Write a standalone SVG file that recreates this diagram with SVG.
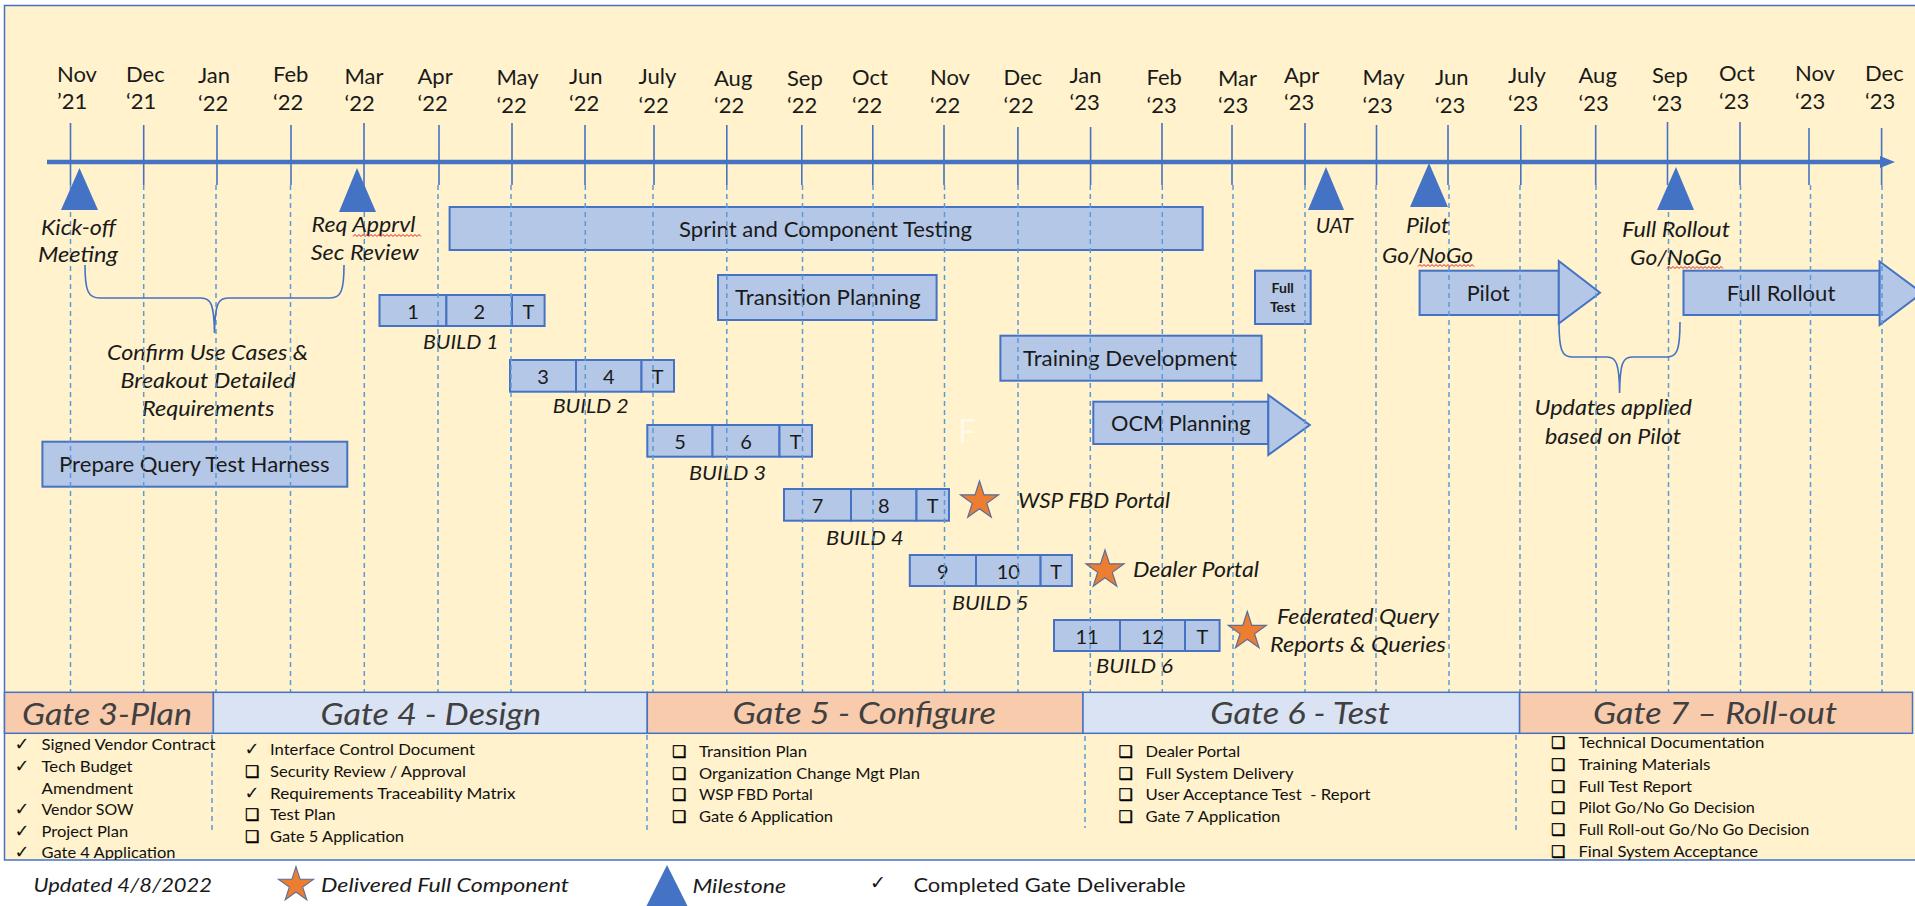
<svg xmlns="http://www.w3.org/2000/svg" width="1915" height="906" viewBox="0 0 1915 906">
<defs>
<style>
text{font-family:Lato,"Open Sans","Liberation Sans",sans-serif;fill:#1a1a1a}
.it{font-style:italic}
.mo{font-size:22px}
.bar{fill:#B4C7E7;stroke:#4472C4;stroke-width:2}
.bt{font-size:21px}
.lbl{font-size:21px;font-style:italic}
.num{font-size:20px;text-anchor:middle}
.bl{font-size:20px;font-style:italic}
.solid{stroke:#4472C4;stroke-width:1.6}
.dash{stroke:#5B9BD5;stroke-width:1.5;stroke-dasharray:5 4;fill:none}
.ms{fill:#4472C4}
.star{fill:#ED7D31;stroke:#5A6E9A;stroke-width:1.2}
.brace{fill:none;stroke:#4472C4;stroke-width:1.6}
.gate{stroke:#4472C4;stroke-width:1.5}
.peach{fill:#F8CBAD}
.lblue{fill:#DAE3F3}
.gt{font-size:31px;font-style:italic;fill:#404040}
.dl{font-size:15px;fill:#111}
.mk{font-family:"DejaVu Sans",sans-serif;font-size:16px;font-weight:bold;fill:#000;stroke:#000;stroke-width:0.4}
.ck{font-family:"DejaVu Sans",sans-serif;font-size:18px;font-weight:bold;fill:#111}
.sq{fill:none;stroke:#E02020;stroke-width:1}
</style>
<polygon id="star" class="star" points="0,-20 4.49,-6.18 19.02,-6.18 7.27,2.36 11.76,16.18 0,7.64 -11.76,16.18 -7.27,2.36 -19.02,-6.18 -4.49,-6.18"/>
<clipPath id="clipBox"><rect x="0" y="0" width="1915" height="860"/></clipPath>
</defs>

<rect x="0" y="0" width="1915" height="906" fill="#FFFFFF"/>
<g id="background">
<rect x="4.5" y="5.5" width="1915" height="854.5" fill="#FFF2CC" stroke="#4472C4" stroke-width="1.5"/>
</g>

<g id="months">
<g class="mo">
<text x="57" y="82">Nov</text><text x="57" y="109">’21</text>
<text x="126" y="82">Dec</text><text x="126" y="109">‘21</text>
<text x="198" y="83">Jan</text><text x="198" y="110.5">‘22</text>
<text x="273" y="82">Feb</text><text x="273" y="109.5">‘22</text>
<text x="344.5" y="83.5">Mar</text><text x="344.5" y="111">‘22</text>
<text x="417.5" y="83.5">Apr</text><text x="417.5" y="111">‘22</text>
<text x="496.5" y="84.5">May</text><text x="496.5" y="112.5">‘22</text>
<text x="569" y="83.5">Jun</text><text x="569" y="111">‘22</text>
<text x="638.5" y="84">July</text><text x="638.5" y="112.5">‘22</text>
<text x="714" y="86">Aug</text><text x="714" y="113">‘22</text>
<text x="787" y="86">Sep</text><text x="787" y="113">‘22</text>
<text x="852" y="84.5">Oct</text><text x="852" y="113">‘22</text>
<text x="930" y="84.5">Nov</text><text x="930" y="113">‘22</text>
<text x="1003.5" y="84.5">Dec</text><text x="1003.5" y="113">‘22</text>
<text x="1069.5" y="83">Jan</text><text x="1069.5" y="109.5">‘23</text>
<text x="1146.5" y="84.5">Feb</text><text x="1146.5" y="112.5">‘23</text>
<text x="1218" y="86">Mar</text><text x="1218" y="113">‘23</text>
<text x="1284" y="83">Apr</text><text x="1284" y="110">‘23</text>
<text x="1362.5" y="84.5">May</text><text x="1362.5" y="113">‘23</text>
<text x="1435" y="84.5">Jun</text><text x="1435" y="112.5">‘23</text>
<text x="1508" y="83">July</text><text x="1508" y="110.5">‘23</text>
<text x="1578.5" y="83">Aug</text><text x="1578.5" y="110.5">‘23</text>
<text x="1652" y="83">Sep</text><text x="1652" y="110.5">‘23</text>
<text x="1719" y="81">Oct</text><text x="1719" y="109">‘23</text>
<text x="1795" y="81">Nov</text><text x="1795" y="109">‘23</text>
<text x="1865" y="81">Dec</text><text x="1865" y="109">‘23</text>
</g>
</g>

<g id="sprint-testing">
<rect class="bar" x="449.6" y="207" width="753.1" height="43"/>
<text class="bt" x="679" y="237" textLength="293" lengthAdjust="spacingAndGlyphs">Sprint and Component Testing</text>
</g>
<g id="transition-planning">
<rect class="bar" x="718" y="275" width="218.6" height="45"/>
<text class="bt" x="735" y="305" textLength="185.5" lengthAdjust="spacingAndGlyphs">Transition Planning</text>
</g>
<g id="full-test">
<rect class="bar" x="1255" y="270.7" width="55.7" height="53.3"/>
<text x="1282.7" y="293.3" font-size="14" font-weight="bold" text-anchor="middle">Full</text>
<text x="1282.7" y="312.3" font-size="14" font-weight="bold" text-anchor="middle">Test</text>
</g>
<g id="training-development">
<rect class="bar" x="1000.4" y="335.7" width="261.2" height="45"/>
<text class="bt" x="1023" y="366" textLength="214" lengthAdjust="spacingAndGlyphs">Training Development</text>
</g>
<g id="ocm-planning">
<rect class="bar" x="1093.3" y="401.7" width="175" height="42.3"/>
<polygon class="bar" points="1268.3,395 1309.8,425 1268.3,455"/>
<text class="bt" x="1111" y="431" textLength="139.5" lengthAdjust="spacingAndGlyphs">OCM Planning</text>
</g>
<g id="pilot">
<rect class="bar" x="1419.6" y="270.7" width="139.2" height="44.3"/>
<polygon class="bar" points="1558.8,261 1600,292.8 1558.8,323.5"/>
<text class="bt" x="1466.7" y="301" textLength="43" lengthAdjust="spacingAndGlyphs">Pilot</text>
</g>
<g id="full-rollout">
<rect class="bar" x="1683.5" y="270.7" width="196.1" height="44.3"/>
<polygon class="bar" points="1879.6,261.5 1922,293 1879.6,325"/>
<text class="bt" x="1726.7" y="301" textLength="108.6" lengthAdjust="spacingAndGlyphs">Full Rollout</text>
</g>
<g id="prepare-query">
<rect class="bar" x="42.4" y="441.7" width="304.9" height="45"/>
<text class="bt" x="59" y="472" textLength="270.5" lengthAdjust="spacingAndGlyphs">Prepare Query Test Harness</text>
</g>

<g id="build1">
<rect class="bar" x="379.5" y="295" width="66.9" height="31"/><rect class="bar" x="446.4" y="295" width="65.6" height="31"/><rect class="bar" x="512" y="295" width="32.6" height="31"/>
<text class="num" x="413" y="319">1</text><text class="num" x="479.2" y="319">2</text><text class="num" x="528.3" y="319">T</text>
<text class="bl" x="423" y="349" textLength="75.7" lengthAdjust="spacingAndGlyphs">BUILD 1</text>
</g>
<g id="build2">
<rect class="bar" x="510" y="360" width="66" height="31.7"/><rect class="bar" x="576" y="360" width="65.5" height="31.7"/><rect class="bar" x="641.5" y="360" width="32.5" height="31.7"/>
<text class="num" x="543" y="384">3</text><text class="num" x="608.7" y="384">4</text><text class="num" x="657.7" y="384">T</text>
<text class="bl" x="552.7" y="413" textLength="76" lengthAdjust="spacingAndGlyphs">BUILD 2</text>
</g>
<g id="build3">
<rect class="bar" x="647.3" y="425" width="65.2" height="31.7"/><rect class="bar" x="712.5" y="425" width="67" height="31.7"/><rect class="bar" x="779.5" y="425" width="32.5" height="31.7"/>
<text class="num" x="680" y="449">5</text><text class="num" x="746" y="449">6</text><text class="num" x="795.7" y="449">T</text>
<text class="bl" x="689" y="480" textLength="77" lengthAdjust="spacingAndGlyphs">BUILD 3</text>
</g>
<g id="build4">
<rect class="bar" x="784" y="489" width="67" height="31.7"/><rect class="bar" x="851" y="489" width="65.5" height="31.7"/><rect class="bar" x="916.5" y="489" width="32.5" height="31.7"/>
<text class="num" x="817.5" y="513">7</text><text class="num" x="883.7" y="513">8</text><text class="num" x="932.7" y="513">T</text>
<text class="bl" x="826" y="545" textLength="77.6" lengthAdjust="spacingAndGlyphs">BUILD 4</text>
</g>
<g id="build5">
<rect class="bar" x="909.8" y="555" width="66.2" height="31"/><rect class="bar" x="976" y="555" width="64.6" height="31"/><rect class="bar" x="1040.6" y="555" width="31.3" height="31"/>
<text class="num" x="942.9" y="579">9</text><text class="num" x="1008.3" y="579">10</text><text class="num" x="1056.2" y="579">T</text>
<text class="bl" x="952" y="610" textLength="76.6" lengthAdjust="spacingAndGlyphs">BUILD 5</text>
</g>
<g id="build6">
<rect class="bar" x="1054" y="620" width="66" height="31"/><rect class="bar" x="1120" y="620" width="65" height="31"/><rect class="bar" x="1185" y="620" width="34.6" height="31"/>
<text class="num" x="1087" y="644">11</text><text class="num" x="1152.5" y="644">12</text><text class="num" x="1202.3" y="644">T</text>
<text class="bl" x="1096" y="673" textLength="77" lengthAdjust="spacingAndGlyphs">BUILD 6</text>
</g>

<g id="confirm-label">
<text class="lbl" x="107" y="360" textLength="201" lengthAdjust="spacingAndGlyphs">Confirm Use Cases &amp;</text>
<text class="lbl" x="120.5" y="388" textLength="175" lengthAdjust="spacingAndGlyphs">Breakout Detailed</text>
<text class="lbl" x="142" y="416" textLength="132.5" lengthAdjust="spacingAndGlyphs">Requirements</text>
</g>
<g id="updates-label">
<text class="lbl" x="1534.5" y="415" textLength="157.5" lengthAdjust="spacingAndGlyphs">Updates applied</text>
<text class="lbl" x="1545" y="443.5" textLength="136" lengthAdjust="spacingAndGlyphs">based on Pilot</text>
</g>
<text x="958" y="443" font-size="32" style="fill:#FFFFFF" opacity="0.6">F</text>

<g id="grid">
<g class="solid">
<line x1="70.5" y1="123" x2="70.5" y2="185"/><line x1="143.7" y1="125" x2="143.7" y2="185"/><line x1="217" y1="125" x2="217" y2="185"/><line x1="291" y1="125" x2="291" y2="185"/><line x1="364" y1="123" x2="364" y2="185"/><line x1="439" y1="125" x2="439" y2="185"/><line x1="512" y1="123" x2="512" y2="185"/><line x1="585" y1="125" x2="585" y2="185"/><line x1="654" y1="125" x2="654" y2="185"/><line x1="726.8" y1="125" x2="726.8" y2="185"/><line x1="801.8" y1="125" x2="801.8" y2="185"/><line x1="872.8" y1="125" x2="872.8" y2="185"/><line x1="944" y1="125" x2="944" y2="185"/><line x1="1017.9" y1="127" x2="1017.9" y2="185"/><line x1="1090.6" y1="127" x2="1090.6" y2="185"/><line x1="1162" y1="123" x2="1162" y2="185"/><line x1="1232" y1="125" x2="1232" y2="185"/><line x1="1305" y1="123" x2="1305" y2="185"/><line x1="1376.5" y1="125" x2="1376.5" y2="185"/><line x1="1448" y1="125" x2="1448" y2="185"/><line x1="1520.8" y1="125" x2="1520.8" y2="185"/><line x1="1595.7" y1="125" x2="1595.7" y2="185"/><line x1="1667.5" y1="122" x2="1667.5" y2="185"/><line x1="1740" y1="122" x2="1740" y2="185"/><line x1="1809" y1="128" x2="1809" y2="185"/><line x1="1881.6" y1="128" x2="1881.6" y2="185"/>
</g>
<g class="dash">
<line x1="70.5" y1="185" x2="70.5" y2="692"/><line x1="143.7" y1="185" x2="143.7" y2="692"/><line x1="216" y1="185" x2="216" y2="692"/><line x1="290.5" y1="185" x2="290.5" y2="692"/><line x1="364.3" y1="185" x2="364.3" y2="692"/><line x1="438" y1="185" x2="438" y2="692"/><line x1="511" y1="185" x2="511" y2="692"/><line x1="585.3" y1="185" x2="585.3" y2="692"/><line x1="653" y1="185" x2="653" y2="692"/><line x1="726.8" y1="185" x2="726.8" y2="692"/><line x1="802.5" y1="185" x2="802.5" y2="692"/><line x1="873" y1="185" x2="873" y2="692"/><line x1="944.5" y1="185" x2="944.5" y2="692"/><line x1="1018" y1="185" x2="1018" y2="692"/><line x1="1090.3" y1="185" x2="1090.3" y2="692"/><line x1="1162.3" y1="185" x2="1162.3" y2="692"/><line x1="1233" y1="185" x2="1233" y2="692"/><line x1="1305" y1="185" x2="1305" y2="692"/><line x1="1376" y1="185" x2="1376" y2="692"/><line x1="1449" y1="185" x2="1449" y2="692"/><line x1="1520" y1="185" x2="1520" y2="692"/><line x1="1596" y1="185" x2="1596" y2="692"/><line x1="1668.5" y1="185" x2="1668.5" y2="692"/><line x1="1740.5" y1="185" x2="1740.5" y2="692"/><line x1="1810.5" y1="185" x2="1810.5" y2="692"/><line x1="1882" y1="185" x2="1882" y2="692"/>
<line x1="212" y1="735" x2="212" y2="830"/><line x1="647" y1="735" x2="647" y2="830"/><line x1="1085" y1="736" x2="1085" y2="828"/><line x1="1516" y1="735" x2="1516" y2="830"/>
</g>
</g>

<g id="axis">
<line x1="47" y1="162" x2="1882" y2="162" stroke="#4472C4" stroke-width="4.3"/>
<polygon points="1880,156 1895,162 1880,168" fill="#4472C4"/>
</g>

<g id="connectors">
<path class="brace" d="M85,265 C85,291 88,298 100,298 L201,298 C211,298 214,304 214.5,333 C215,304 218,298 228,298 L330,298 C341,298 344,291 344,265"/>
<path class="brace" d="M1559,322 C1559,350 1562,357 1572,357 L1607,357 C1616,357 1619.3,363 1619.6,393 C1620,363 1623,357 1632,357 L1667,357 C1677,357 1680,350 1680,322"/>
</g>

<g id="milestone-kickoff">
<polygon class="ms" points="61,210 79.5,168 98,210"/>
<text class="lbl" x="41" y="235" textLength="75" lengthAdjust="spacingAndGlyphs">Kick-off</text>
<text class="lbl" x="38" y="262" textLength="80" lengthAdjust="spacingAndGlyphs">Meeting</text>
</g>
<g id="milestone-req">
<polygon class="ms" points="339,212 357,168 376,212"/>
<text class="lbl" x="311.6" y="232" textLength="104" lengthAdjust="spacingAndGlyphs">Req Apprvl</text>
<text class="lbl" x="310.7" y="260" textLength="108" lengthAdjust="spacingAndGlyphs">Sec Review</text>
<path class="sq" d="M353,236.5 l2,-2 2,2 2,-2 2,2 2,-2 2,2 2,-2 2,2 2,-2 2,2 2,-2 2,2 2,-2 2,2 2,-2 2,2 2,-2 2,2 2,-2 2,2 2,-2 2,2 2,-2 2,2 2,-2 2,2 2,-2 2,2 2,-2 2,2 2,-2 2,2 2,-2 2,2"/>
</g>
<g id="milestone-uat">
<polygon class="ms" points="1308,210 1326,167 1344,210"/>
<text class="lbl" x="1315.7" y="233" textLength="37.3" lengthAdjust="spacingAndGlyphs">UAT</text>
</g>
<g id="milestone-pilot">
<polygon class="ms" points="1410,207 1429,163 1448,207"/>
<text class="lbl" x="1406" y="233" textLength="43" lengthAdjust="spacingAndGlyphs">Pilot</text>
<text class="lbl" x="1382" y="263" textLength="91" lengthAdjust="spacingAndGlyphs">Go/NoGo</text>
<path class="sq" d="M1418,266.5 l2,-2 2,2 2,-2 2,2 2,-2 2,2 2,-2 2,2 2,-2 2,2 2,-2 2,2 2,-2 2,2 2,-2 2,2 2,-2 2,2 2,-2 2,2 2,-2 2,2 2,-2 2,2 2,-2 2,2 2,-2 2,2"/>
</g>
<g id="milestone-fullrollout">
<polygon class="ms" points="1657,210 1676,167 1694,210"/>
<text class="lbl" x="1622" y="237" textLength="108" lengthAdjust="spacingAndGlyphs">Full Rollout</text>
<text class="lbl" x="1630" y="265" textLength="91.6" lengthAdjust="spacingAndGlyphs">Go/NoGo</text>
<path class="sq" d="M1667,268.5 l2,-2 2,2 2,-2 2,2 2,-2 2,2 2,-2 2,2 2,-2 2,2 2,-2 2,2 2,-2 2,2 2,-2 2,2 2,-2 2,2 2,-2 2,2 2,-2 2,2 2,-2 2,2 2,-2 2,2 2,-2 2,2"/>
</g>

<g id="star-wsp">
<use href="#star" x="979.5" y="501"/>
<text class="lbl" x="1018" y="508" textLength="152" lengthAdjust="spacingAndGlyphs">WSP FBD Portal</text>
</g>
<g id="star-dealer">
<use href="#star" x="1105" y="570"/>
<text class="lbl" x="1133" y="577" textLength="126" lengthAdjust="spacingAndGlyphs">Dealer Portal</text>
</g>
<g id="star-federated">
<use href="#star" x="1247.3" y="631.5"/>
<text class="lbl" x="1277" y="624" textLength="162" lengthAdjust="spacingAndGlyphs">Federated Query</text>
<text class="lbl" x="1270" y="651.5" textLength="176" lengthAdjust="spacingAndGlyphs">Reports &amp; Queries</text>
</g>

<g id="gate3">
<rect class="gate peach" x="4.5" y="692.3" width="208.9" height="41"/>
<text class="gt" x="22" y="725" textLength="170" lengthAdjust="spacingAndGlyphs">Gate 3-Plan</text>
<text class="ck" x="14.5" y="750">✓</text><text class="dl" x="41.5" y="750" textLength="174" lengthAdjust="spacingAndGlyphs">Signed Vendor Contract</text>
<text class="ck" x="14.5" y="772">✓</text><text class="dl" x="41.5" y="772" textLength="91" lengthAdjust="spacingAndGlyphs">Tech Budget</text>
<text class="dl" x="41.5" y="793.5" textLength="91.5" lengthAdjust="spacingAndGlyphs">Amendment</text>
<text class="ck" x="14.5" y="815">✓</text><text class="dl" x="41.5" y="815" textLength="92" lengthAdjust="spacingAndGlyphs">Vendor SOW</text>
<text class="ck" x="14.5" y="836.5">✓</text><text class="dl" x="41.5" y="836.5" textLength="86.6" lengthAdjust="spacingAndGlyphs">Project Plan</text>
<g clip-path="url(#clipBox)"><text class="ck" x="14.5" y="858">✓</text><text class="dl" x="41.5" y="858" textLength="134" lengthAdjust="spacingAndGlyphs">Gate 4 Application</text></g>
</g>
<g id="gate4">
<rect class="gate lblue" x="213.4" y="692.3" width="433.9" height="41"/>
<text class="gt" x="320.5" y="725" textLength="220.5" lengthAdjust="spacingAndGlyphs">Gate 4 - Design</text>
<text class="ck" x="244.5" y="755">✓</text><text class="dl" x="270" y="755" textLength="205" lengthAdjust="spacingAndGlyphs">Interface Control Document</text>
<text class="mk" x="245" y="777">❑</text><text class="dl" x="270" y="777" textLength="196" lengthAdjust="spacingAndGlyphs">Security Review / Approval</text>
<text class="ck" x="244.5" y="798.5">✓</text><text class="dl" x="270" y="798.5" textLength="245.5" lengthAdjust="spacingAndGlyphs">Requirements Traceability Matrix</text>
<text class="mk" x="245" y="820">❑</text><text class="dl" x="270" y="820" textLength="65.6" lengthAdjust="spacingAndGlyphs">Test Plan</text>
<text class="mk" x="245" y="842">❑</text><text class="dl" x="270" y="842" textLength="134" lengthAdjust="spacingAndGlyphs">Gate 5 Application</text>
</g>
<g id="gate5">
<rect class="gate peach" x="647.3" y="692.3" width="435.7" height="41"/>
<text class="gt" x="732.6" y="724" textLength="263.4" lengthAdjust="spacingAndGlyphs">Gate 5 - Configure</text>
<text class="mk" x="672" y="757">❑</text><text class="dl" x="699" y="757" textLength="108" lengthAdjust="spacingAndGlyphs">Transition Plan</text>
<text class="mk" x="672" y="778.5">❑</text><text class="dl" x="699" y="778.5" textLength="221" lengthAdjust="spacingAndGlyphs">Organization Change Mgt Plan</text>
<text class="mk" x="672" y="800">❑</text><text class="dl" x="699" y="800" textLength="113.8" lengthAdjust="spacingAndGlyphs">WSP FBD Portal</text>
<text class="mk" x="672" y="821.5">❑</text><text class="dl" x="699" y="821.5" textLength="134" lengthAdjust="spacingAndGlyphs">Gate 6 Application</text>
</g>
<g id="gate6">
<rect class="gate lblue" x="1083" y="692.3" width="436.6" height="41"/>
<text class="gt" x="1210.3" y="724" textLength="179.7" lengthAdjust="spacingAndGlyphs">Gate 6 - Test</text>
<text class="mk" x="1118.5" y="757">❑</text><text class="dl" x="1145.5" y="757" textLength="94.6" lengthAdjust="spacingAndGlyphs">Dealer Portal</text>
<text class="mk" x="1118.5" y="778.5">❑</text><text class="dl" x="1145.5" y="778.5" textLength="148" lengthAdjust="spacingAndGlyphs">Full System Delivery</text>
<text class="mk" x="1118.5" y="800">❑</text><text class="dl" x="1145.5" y="800" xml:space="preserve" textLength="225" lengthAdjust="spacingAndGlyphs">User Acceptance Test  - Report</text>
<text class="mk" x="1118.5" y="821.5">❑</text><text class="dl" x="1145.5" y="821.5" textLength="134.8" lengthAdjust="spacingAndGlyphs">Gate 7 Application</text>
</g>
<g id="gate7">
<rect class="gate peach" x="1519.6" y="692.3" width="392.9" height="41"/>
<text class="gt" x="1593" y="724" textLength="244" lengthAdjust="spacingAndGlyphs">Gate 7 – Roll-out</text>
<text class="mk" x="1551" y="748.3">❑</text><text class="dl" x="1578.4" y="748.3" textLength="186" lengthAdjust="spacingAndGlyphs">Technical Documentation</text>
<text class="mk" x="1551" y="770">❑</text><text class="dl" x="1578.4" y="770" textLength="132" lengthAdjust="spacingAndGlyphs">Training Materials</text>
<text class="mk" x="1551" y="791.7">❑</text><text class="dl" x="1578.4" y="791.7" textLength="113.7" lengthAdjust="spacingAndGlyphs">Full Test Report</text>
<text class="mk" x="1551" y="813.3">❑</text><text class="dl" x="1578.4" y="813.3" textLength="176.5" lengthAdjust="spacingAndGlyphs">Pilot Go/No Go Decision</text>
<text class="mk" x="1551" y="835">❑</text><text class="dl" x="1578.4" y="835" textLength="231" lengthAdjust="spacingAndGlyphs">Full Roll-out Go/No Go Decision</text>
<g clip-path="url(#clipBox)"><text class="mk" x="1551" y="856.7">❑</text><text class="dl" x="1578.4" y="856.7" textLength="179.6" lengthAdjust="spacingAndGlyphs">Final System Acceptance</text></g>
</g>

<g id="legend">
<text class="it" x="33.5" y="891.5" font-size="20" textLength="178.5" lengthAdjust="spacingAndGlyphs">Updated 4/8/2022</text>
<use href="#star" transform="translate(296,885) scale(0.92)"/>
<text class="it" x="321" y="891.5" font-size="20" textLength="248" lengthAdjust="spacingAndGlyphs">Delivered Full Component</text>
<polygon class="ms" points="646,907 667,865 688,907"/>
<text class="it" x="692.4" y="893" font-size="20" textLength="93.6" lengthAdjust="spacingAndGlyphs">Milestone</text>
<text class="ck" x="870" y="889" style="font-size:19px">✓</text>
<text x="913.4" y="891.5" font-size="20" textLength="272.3" lengthAdjust="spacingAndGlyphs">Completed Gate Deliverable</text>
</g>
</svg>
